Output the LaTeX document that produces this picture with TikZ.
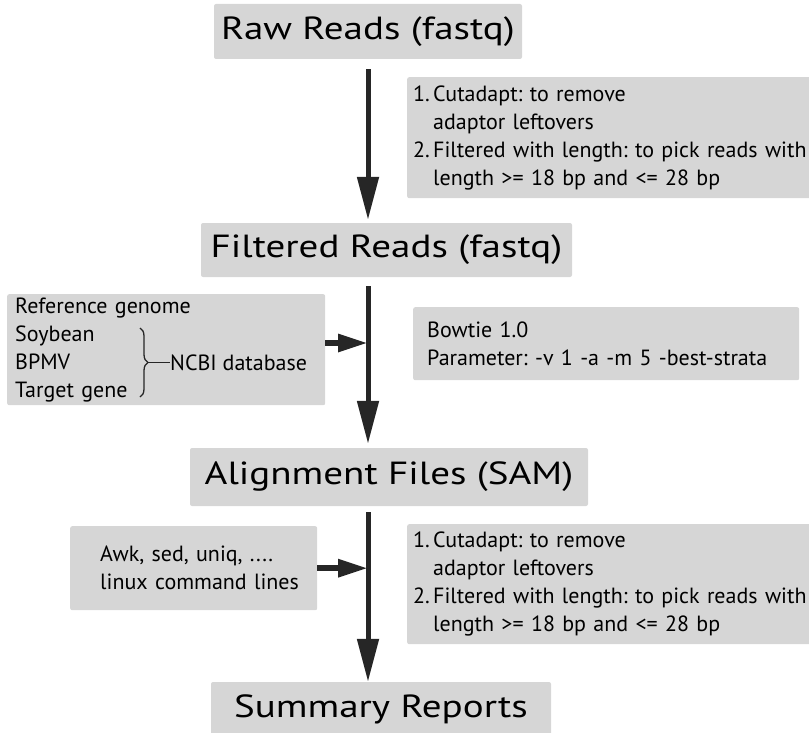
\documentclass[tikz,border=0pt]{standalone}
\usepackage{fontspec}
\setmainfont{PT Sans}
\newfontfamily\titlefont[FakeStretch=1.22]{PT Sans}
\frenchspacing
\usetikzlibrary{arrows.meta,decorations.pathreplacing}
\definecolor{boxgray}{HTML}{D6D6D6}
\definecolor{inkgray}{HTML}{262626}
\tikzset{
    title/.style={fill=boxgray, rounded corners=2pt, minimum height=55pt, inner sep=0pt, font=\titlefont\fontsize{32}{36}\selectfont},
    info/.style={fill=boxgray, rounded corners=2pt, anchor=north west, align=left, inner ysep=0pt, font=\fontsize{22}{28}\selectfont},
    flow/.style={draw=inkgray, line width=5pt, -{Triangle[length=43pt, width=21pt]}},
    feed/.style={draw=inkgray, line width=6pt, -{Triangle[length=30pt, width=17pt]}},
    thinline/.style={draw=inkgray, line width=1.3pt},
}
\begin{document}
\begin{tikzpicture}[x=1pt, y=-1pt]
    \useasboundingbox (0, 0) rectangle (809, 733);
    \coordinate (spine) at (368, 0);
    \coordinate (feedA) at (0, 343);

    \node[title, minimum width=308pt] (raw) at (368, 31.5) {Raw Reads (fastq)};
    \node[title, minimum width=371pt, minimum height=54pt] (filt) at (386.5, 250) {Filtered Reads (fastq)};
    \node[title, minimum width=398pt, minimum height=58pt] (align) at (389, 477) {Alignment Files (SAM)};
    \node[title, minimum width=340pt] (sum) at (381, 709.5) {Summary Reports};

    \node[info, text width=400pt, inner xsep=6pt, minimum height=121pt] (cut1) at (407, 77)
        {\makebox[20pt][l]{1.}Cutadapt: to remove\\
         \hspace*{20pt}adaptor leftovers\\
         \makebox[20pt][l]{2.}Filtered with length: to pick reads with\\
         \hspace*{20pt}length >= 18 bp and <= 28 bp};
    \node[info, text width=302pt, inner xsep=8pt, minimum height=111pt] (ref) at (7, 294)
        {Reference genome\\Soybean\\BPMV\\Target gene};
    \node[info, text width=358pt, inner xsep=14pt, minimum height=73pt] (bowtie) at (413, 307)
        {Bowtie 1.0\\Parameter: -v 1 -a -m 5 -best-strata};
    \node[info, text width=217pt, inner xsep=15pt, minimum height=84pt] (awk) at (70, 526)
        {\hspace*{15pt}Awk, sed, uniq, ....\\
         \hspace*{15pt}linux command lines};
    \node[info, text width=400pt, inner xsep=6pt, minimum height=120pt] (cut2) at (407, 524)
        {\makebox[20pt][l]{1.}Cutadapt: to remove\\
         \hspace*{20pt}adaptor leftovers\\
         \makebox[20pt][l]{2.}Filtered with length: to pick reads with\\
         \hspace*{20pt}length >= 18 bp and <= 28 bp};

    \node[anchor=base west, inner sep=0pt, font=\fontsize{22}{28}\selectfont] (ncbi) at (170, 370) {NCBI database};
    \coordinate (btop) at (140, 328);
    \coordinate (bbot) at (140, 397);
    \draw[thinline, decorate, decoration={brace, amplitude=8pt}] (btop) -- (bbot);
    \draw[thinline] (ncbi.west) -- ++(-22, 0);

    \draw[flow, shorten <=10pt, shorten >=3pt] (raw.south -| spine) -- (filt.north -| spine);
    \draw[flow, shorten <=9pt, shorten >=4pt] (filt.south -| spine) -- (align.north -| spine);
    \draw[flow, shorten <=6pt] (align.south -| spine) -- (sum.north -| spine);

    \draw[feed] (ref.east |- feedA) -- (spine |- feedA);
    \draw[feed] (awk.east) -- (awk.east -| spine);
\end{tikzpicture}
\end{document}
